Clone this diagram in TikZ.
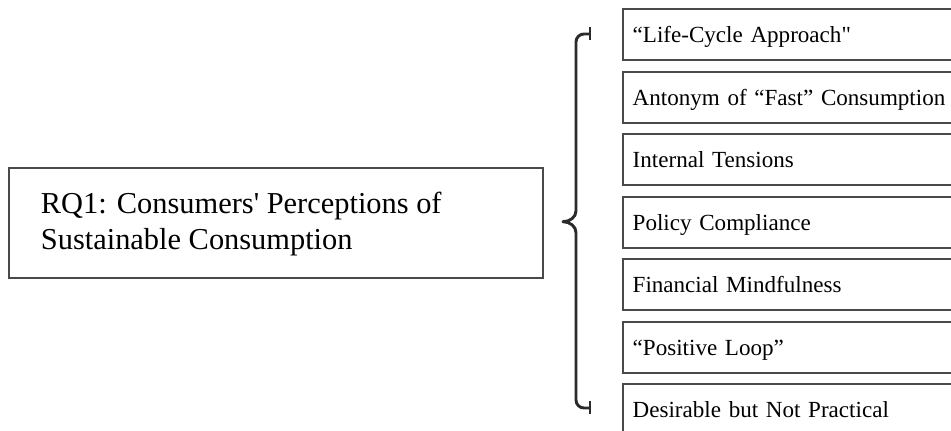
\documentclass[tikz,border=0pt]{standalone}
\usepackage{fontspec}
\setmainfont{Liberation Serif}[Ligatures=TeXOff]
\definecolor{boxline}{HTML}{4A4A4A}
\definecolor{braceline}{HTML}{2B2B2B}
\begin{document}
\begin{tikzpicture}[x=0.75pt,y=-0.75pt,
  lbox/.style={draw=boxline, line width=1.5pt, inner sep=0pt, anchor=north west,
    minimum width=400.5pt, minimum height=82pt},
  ltext/.style={anchor=base west, align=left, inner sep=0pt,
    font=\fontsize{22.8}{27}\selectfont},
  rbox/.style={draw=boxline, line width=1.5pt, anchor=north west,
    minimum height=38.25pt, text width=320pt,
    inner xsep=7.5pt, inner ysep=0pt, align=left,
    text height=11.45pt, text depth=0pt,
    font=\fontsize{17.3}{21}\selectfont},
  bracestroke/.style={draw=braceline, line width=2.2pt, line join=round}]
\useasboundingbox (0,0) rectangle (951,431);
\clip (0,0) rectangle (951,431);

\node[lbox] (rq) at (8.3,167.2) {};
\node[ltext] (rqtext) at (40.7,250) {RQ1: Consumers' Perceptions of\\Sustainable Consumption};

\node[rbox] (b1) at (621.7,8.5) {“Life-Cycle Approach"};
\node[rbox] (b2) at (621.7,71) {Antonym of “Fast” Consumption};
\node[rbox] (b3) at (621.7,133.5) {Internal Tensions};
\node[rbox] (b4) at (621.7,196) {Policy Compliance};
\node[rbox] (b5) at (621.7,258.5) {Financial Mindfulness};
\node[rbox] (b6) at (621.7,321) {“Positive Loop”};
\node[rbox] (b7) at (621.7,383.5) {Desirable but Not Practical};

\coordinate (btop) at (590,34);
\coordinate (btip) at (563,221.7);
\coordinate (bbot) at (590,408);
\draw[bracestroke] (590,27.5) -- (590,40.5);
\draw[bracestroke] (590,401.5) -- (590,414.5);
\draw[bracestroke] (btop) -- (584,34) .. controls (579.5,34) and (576,37.5) .. (576,42)
  -- (576,211) .. controls (576,217) and (570,221.7) .. (btip)
  .. controls (570,221.7) and (576,226.5) .. (576,232.5)
  -- (576,400) .. controls (576,404.5) and (579.5,408) .. (584,408) -- (bbot);
\end{tikzpicture}
\end{document}
